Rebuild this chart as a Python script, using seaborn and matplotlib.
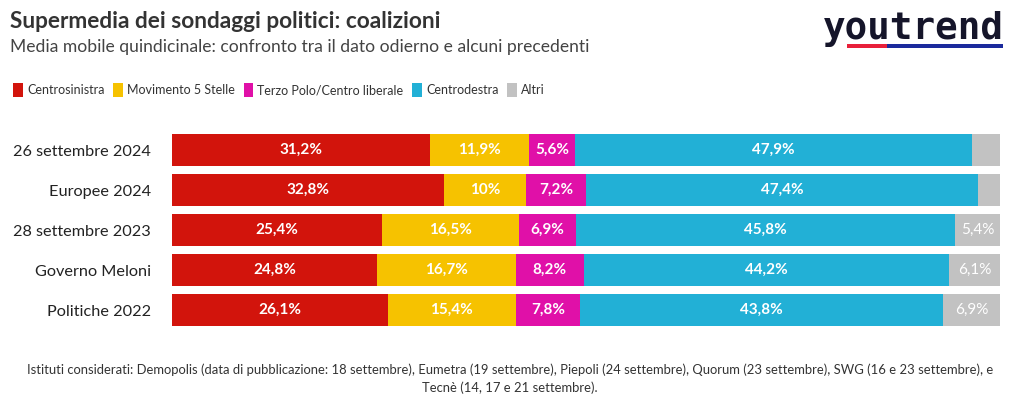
import pandas as pd
import numpy as np
import matplotlib.pyplot as plt
import seaborn as sns
from matplotlib.patches import Patch, Rectangle

rows = ['26 settembre 2024', 'Europee 2024', '28 settembre 2023', 'Governo Meloni', 'Politiche 2022']
centrosinistra = [31.2, 32.8, 25.4, 24.8, 26.1]
m5s = [11.9, 10.0, 16.5, 16.7, 15.4]
terzo_polo = [5.6, 7.2, 6.9, 8.2, 7.8]
centrodestra = [47.9, 47.4, 45.8, 44.2, 43.8]
altri = [3.4, 2.6, 5.4, 6.1, 6.9]

series = ['Centrosinistra', 'Movimento 5 Stelle', 'Terzo Polo/Centro liberale', 'Centrodestra', 'Altri']
colors = ['#d2140c', '#f6c200', '#e010a8', '#22b0d6', '#c2c2c2']

df = pd.DataFrame({
    'Centrosinistra': centrosinistra,
    'Movimento 5 Stelle': m5s,
    'Terzo Polo/Centro liberale': terzo_polo,
    'Centrodestra': centrodestra,
    'Altri': altri,
}, index=rows)
cum = df.cumsum(axis=1)

sns.set_style('white')
plt.rcParams['font.family'] = ['Lato', 'DejaVu Sans']

fig = plt.figure(figsize=(10.2, 4.07), dpi=100)
ax = fig.add_axes([172 / 1020, 1 - 330 / 407, 828 / 1020, 200 / 407])

# stacked bars: draw cumulative totals from the last series back to the first
for col, color in reversed(list(zip(series, colors))):
    sns.barplot(x=cum[col].values, y=rows, color=color, orient='h', width=0.8,
                saturation=1, linewidth=0, ax=ax)

for i, r in enumerate(rows):
    for col in series:
        v = df.loc[r, col]
        if v < 5:
            continue
        x = cum.loc[r, col] - v / 2
        txt = f'{v:g}'.replace('.', ',') + '%'
        if col == 'Altri':
            ax.text(x, i, txt, ha='center', va='center', color='white', fontsize=11)
        else:
            ax.text(x, i, txt, ha='center', va='center', color='white', fontsize=11, fontweight='bold')

ax.set_xlim(0, 100)
ax.set_ylim(4.5, -0.5)
ax.set_xlabel('')
ax.set_ylabel('')
ax.set_xticks([])
sns.despine(ax=ax, left=True, bottom=True)
ax.tick_params(axis='y', length=0, pad=15, labelsize=11.7, labelcolor='#222222')

fig.text(10 / 1020, 1 - 22 / 407, 'Supermedia dei sondaggi politici: coalizioni', fontsize=16.3,
         fontweight='bold', color='#333333', va='center')
fig.text(10 / 1020, 1 - 47 / 407, 'Media mobile quindicinale: confronto tra il dato odierno e alcuni precedenti',
         fontsize=12.6, color='#444444', va='center')

handles = [Patch(facecolor=c, edgecolor='none', label=s) for s, c in zip(series, colors)]
fig.legend(handles=handles, loc='center left', bbox_to_anchor=(2 / 1020, 1 - 90 / 407), ncol=5,
           frameon=False, fontsize=9, handlelength=0.75, handleheight=1.3, handletextpad=0.35,
           columnspacing=0.7, labelcolor='#333333')

fig.text(1 - 16 / 1020, 1 - 29 / 407, 'youtrend', fontsize=27, fontweight='bold', family='DejaVu Sans Mono',
         color='#15152a', ha='right', va='center')
fig.patches.append(Rectangle((847 / 1020, 1 - 48 / 407), 40 / 1020, 4 / 407, transform=fig.transFigure,
                             facecolor='#e8203a', edgecolor='none'))
fig.patches.append(Rectangle((887 / 1020, 1 - 48 / 407), 116 / 1020, 4 / 407, transform=fig.transFigure,
                             facecolor='#1b2a9c', edgecolor='none'))

fig.text(0.5, 1 - 379 / 407,
         'Istituti considerati: Demopolis (data di pubblicazione: 18 settembre), Eumetra (19 settembre), '
         'Piepoli (24 settembre), Quorum (23 settembre), SWG (16 e 23 settembre), e\nTecnè (14, 17 e 21 settembre).',
         ha='center', va='center', fontsize=9.4, color='#333333', linespacing=1.5)

fig.savefig('out.png', dpi=100)
